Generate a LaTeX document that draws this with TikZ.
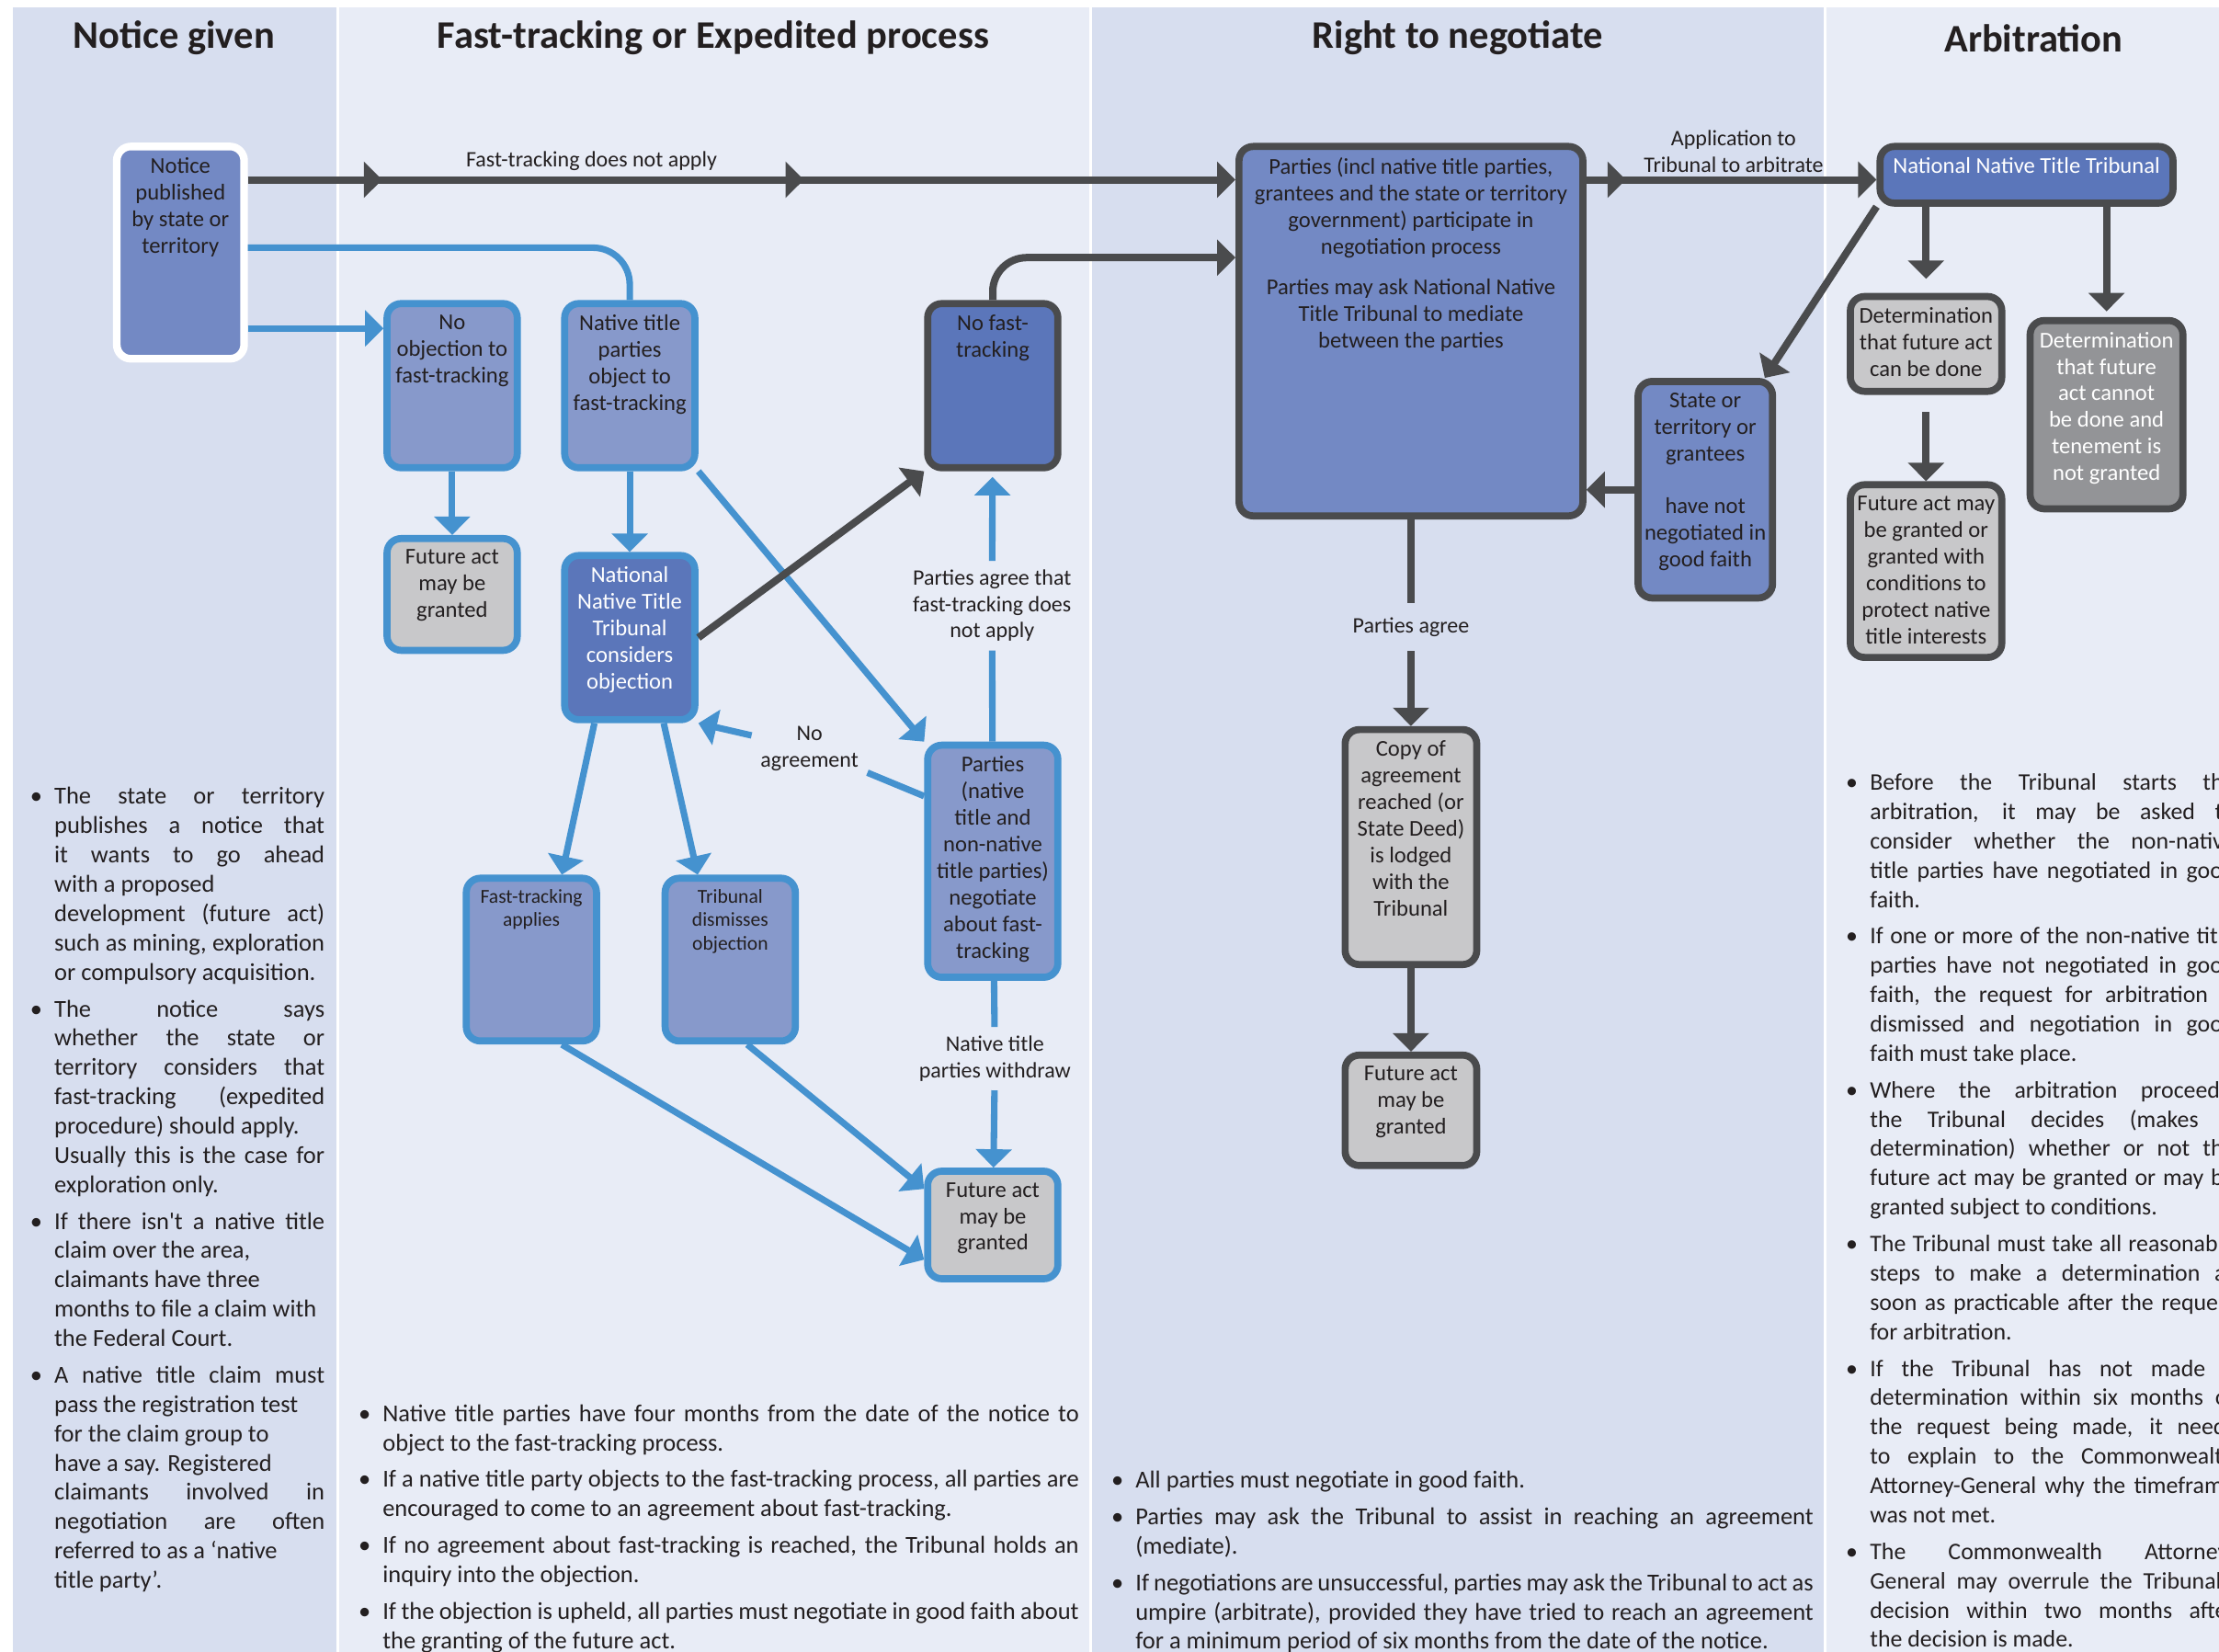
\documentclass[tikz,border=0pt]{standalone}
\usepackage{fontspec}
\setmainfont{Carlito}
\usetikzlibrary{arrows.meta,decorations.markings}
\definecolor{bgA}{HTML}{D7DEEF}
\definecolor{bgB}{HTML}{E8ECF6}
\definecolor{fillMid}{HTML}{7389C4}
\definecolor{fillLight}{HTML}{8799CB}
\definecolor{fillDark}{HTML}{5B76BA}
\definecolor{grayLight}{HTML}{C8C8CA}
\definecolor{grayDark}{HTML}{939497}
\definecolor{lineBlue}{HTML}{4592CF}
\definecolor{lineDark}{HTML}{4A4B4D}
\definecolor{txt}{HTML}{231F20}
\newcommand{\boxtext}[3]{\parbox[c][#2][t]{#1}{\centering #3}}
\newlength{\bhang}\setlength{\bhang}{10pt}
\newcommand{\bitem}[1]{\par\noindent\hangindent=\bhang\hangafter=1\makebox[\bhang][l]{\hspace{1.5pt}\textbullet}#1\par}

\begin{document}
\begin{tikzpicture}[x=0.5pt,y=-0.5pt,>={Triangle[length=6.5pt,width=12.5pt]},
  box/.style={rectangle,rounded corners=5pt,line width=2.5pt,inner xsep=1pt,inner ysep=4pt,text=txt,font=\fontsize{8}{9.4}\selectfont},
  blbox/.style={box,draw=lineBlue},
  dkbox/.style={box,draw=lineDark},
  bl/.style={draw=lineBlue,line width=2.3pt},
  dk/.style={draw=lineDark,line width=2.6pt},
  lbl/.style={font=\fontsize{7.8}{9.3}\selectfont,text=txt,align=center,inner sep=3pt},
  head/.style={font=\fontsize{13.8}{16}\selectfont\bfseries,text=txt},
  notes/.style={anchor=north west,inner sep=0pt,align=justify,text=txt,font=\fontsize{8.6}{10.35}\selectfont,
    execute at begin node={\setlength{\parskip}{2.6pt}\tolerance=10000\hbadness=10000\hyphenpenalty=10000\exhyphenpenalty=10000}}]
  % page and column backgrounds
  \fill[white] (0,0) rectangle (1568,1167);
  \useasboundingbox (0,0) rectangle (1568,1167);
  \fill[bgA] (9,5) rectangle (238,1167);
  \fill[bgB] (239.5,5) rectangle (770,1167);
  \fill[bgA] (771.5,5) rectangle (1289,1167);
  \fill[bgB] (1290.5,5) rectangle (1568,1167);
  % column headings
  \node[head] (h1) at (123,27) {Notice given};
  \node[head] (h2) at (504,27) {Fast-tracking or Expedited process};
  \node[head] (h3) at (1030,27) {Right to negotiate};
  \node[head] (h4) at (1437,27) {Arbitration};

  % boxes: notice and fast-tracking
  \node[box,draw=white,fill=fillMid,line width=2.7pt] (notice) at (127.5,178.5) {\boxtext{43pt}{67pt}{Notice\\published\\by state or\\territory}};
  \node[blbox,fill=fillLight] (noobj) at (319.5,272.5) {\boxtext{44pt}{50pt}{No\\objection to\\fast-tracking}};
  \node[blbox,fill=fillLight] (ntobj) at (445,272.5) {\boxtext{44pt}{50pt}{Native title\\parties\\object to\\fast-tracking}};
  \node[dkbox,fill=fillDark] (nofast) at (701.5,272.5) {\boxtext{44pt}{50pt}{No fast-\\tracking}};
  \node[blbox,fill=grayLight] (fa1) at (319.5,420) {\boxtext{44pt}{31.5pt}{Future act\\may be\\granted}};
  \node[blbox,fill=fillDark,text=white] (nntt1) at (445,450.5) {\boxtext{44pt}{50pt}{National\\Native Title\\Tribunal\\considers\\objection}};
  \node[blbox,fill=fillLight,font=\fontsize{7}{8.2}\selectfont] (ftapp) at (375.5,678) {\boxtext{44pt}{49.5pt}{Fast-tracking\\applies}};
  \node[blbox,fill=fillLight,font=\fontsize{7}{8.2}\selectfont] (dismiss) at (516,678) {\boxtext{44pt}{49.5pt}{Tribunal\\dismisses\\objection}};
  \node[blbox,fill=fillLight] (partiesneg) at (701.5,608.5) {\boxtext{44pt}{74pt}{Parties\\(native\\title and\\non-native\\title parties)\\negotiate\\about fast-\\tracking}};
  \node[blbox,fill=grayLight] (fa2) at (701.5,865.5) {\boxtext{44pt}{30pt}{Future act\\may be\\granted}};

  % boxes: right to negotiate and arbitration
  \node[dkbox,fill=fillMid] (parties) at (997,234) {\boxtext{119.5pt}{122.5pt}{Parties (incl native title parties,\\grantees and the state or territory\\government) participate in\\negotiation process\\[5pt]Parties may ask National Native\\Title Tribunal to mediate\\between the parties}};
  \node[dkbox,fill=grayLight] (copy) at (997,598.5) {\boxtext{44.5pt}{75pt}{Copy of\\agreement\\reached (or\\State Deed)\\is lodged\\with the\\Tribunal}};
  \node[dkbox,fill=grayLight] (fa3) at (997,784.5) {\boxtext{44.5pt}{31pt}{Future act\\may be\\granted}};
  \node[dkbox,fill=fillMid] (state) at (1205,346) {\boxtext{45.5pt}{68.5pt}{State or\\territory or\\grantees\\[9.2pt]have not\\negotiated in\\good faith}};
  \node[dkbox,fill=fillDark,text=white] (nntt2) at (1432,123.5) {\boxtext{101.5pt}{12pt}{National Native Title Tribunal}};
  \node[dkbox,fill=grayLight] (detcan) at (1361,243) {\boxtext{51.5pt}{25.5pt}{Determination\\that future act\\can be done}};
  \node[dkbox,fill=grayDark,text=white] (detcannot) at (1488.5,293) {\boxtext{52pt}{58.5pt}{Determination\\that future\\act cannot\\be done and\\tenement is\\not granted}};
  \node[dkbox,fill=grayLight] (fagrant) at (1361,403.5) {\boxtext{51.5pt}{53pt}{Future act may\\be granted or\\granted with\\conditions to\\protect native\\title interests}};

  % connector labels
  \node[lbl] (lblft) at (418,114) {Fast-tracking does not apply};
  \node[lbl] (lblagree) at (701,428) {Parties agree that\\fast-tracking does\\not apply};
  \node[lbl] (lblnoagr) at (572,529) {No\\agreement};
  \node[lbl] (lblwd) at (703,748) {Native title\\parties withdraw};
  \node[lbl] (lblapp) at (1225,107) {Application to\\Tribunal to arbitrate};
  \node[lbl,inner ysep=5pt] (lblpa) at (997,443) {Parties agree};

  % connectors: notice and fast-tracking
  \coordinate (n1) at ([yshift=25.75pt]notice.east);
  \draw[dk,->,postaction={decorate},decoration={markings,mark=at position 0.136 with {\arrow{>}},mark=at position 0.563 with {\arrow{>}}}] (n1) -- (n1 -| parties.west);
  \coordinate (n2) at ([yshift=1.75pt]notice.east);
  \draw[bl,rounded corners=13pt] (n2) -| (ntobj.north);
  \coordinate (n3) at ([yshift=-26.75pt]notice.east);
  \draw[bl,->] (n3) -- (n3 -| noobj.west);
  \draw[bl,->] (noobj) -- (fa1);
  \draw[bl,->] (ntobj) -- (nntt1);
  \draw[bl,->] (ntobj.south east) -- (partiesneg.north west);
  \draw[dk,->] (nntt1.east) -- (nofast.south west);
  \coordinate (p2) at ([yshift=26pt]parties.west);
  \draw[dk,->,rounded corners=12pt] (nofast.north) |- (p2);
  \draw[bl] (partiesneg) -- (lblagree);
  \draw[bl,->,shorten >=2pt] (lblagree) -- (nofast);
  \coordinate (ng) at ([yshift=23pt]partiesneg.west);
  \draw[bl] (ng) -- (lblnoagr);
  \draw[bl,->] (lblnoagr) -- (nntt1.south east);
  \draw[bl,->] ([xshift=-12.5pt]nntt1.south) -- ([xshift=10.75pt]ftapp.north);
  \draw[bl,->] ([xshift=12pt]nntt1.south) -- ([xshift=-11.5pt]dismiss.north);
  \draw[bl] (partiesneg) -- (lblwd);
  \draw[bl,->] (lblwd) -- (fa2);
  \draw[bl,->] ([xshift=10.75pt]ftapp.south) -- ([yshift=-12.25pt]fa2.west);
  \draw[bl,->] ([xshift=6pt]dismiss.south) -- ([yshift=12.75pt]fa2.west);

  % connectors: negotiation and arbitration
  \coordinate (p3) at ([yshift=53.5pt]parties.east);
  \draw[dk,->,postaction={decorate},decoration={markings,mark=at position 0.136 with {\arrow{>}}}] (p3) -- (p3 -| nntt2.west);
  \draw[dk,->] (nntt2.south west) -- ([xshift=-4pt]state.north east);
  \draw[dk,->,shorten >=5pt] (nntt2.south -| detcan.north) -- (detcan.north);
  \draw[dk,->,shorten >=2pt] (nntt2.south -| detcannot.north) -- (detcannot.north);
  \draw[dk,->,shorten <=6pt] (detcan) -- (fagrant);
  \draw[dk,->] (state.west) -- (state.west -| parties.east);
  \draw[dk] (parties) -- (lblpa);
  \draw[dk,->] (lblpa) -- (copy);
  \draw[dk,->] (copy) -- (fa3);

  % notes under each column
  \node[notes,text width=105.5pt] (notes1) at (18,542) {%
    \bitem{The state or territory\linebreak publishes a notice that\linebreak it wants to go ahead\linebreak with a proposed\newline development (future act)\linebreak such as mining, exploration\linebreak or compulsory acquisition.}%
    \bitem{The notice says\linebreak whether the state or\linebreak territory considers that\linebreak fast-tracking (expedited\linebreak procedure) should apply.\newline Usually this is the case for\linebreak exploration only.}%
    \bitem{If there isn\textquotesingle t a native title\linebreak claim over the area,\newline claimants have three\newline months to file a claim with\newline the Federal Court.}%
    \bitem{A native title claim must\linebreak pass the registration test\newline for the claim group to\newline have a say. Registered\newline claimants involved in\linebreak negotiation are often\linebreak referred to as a ‘native\newline title party’.}};
  \node[notes,text width=256pt] (notes2) at (250,978) {%
    \bitem{Native title parties have four months from the date of the notice to\linebreak object to the fast-tracking process.}%
    \bitem{If a native title party objects to the fast-tracking process, all parties are\linebreak encouraged to come to an agreement about fast-tracking.}%
    \bitem{If no agreement about fast-tracking is reached, the Tribunal holds an\linebreak inquiry into the objection.}%
    \bitem{If the objection is upheld, all parties must negotiate in good faith about\linebreak the granting of the future act.}};
  \node[notes,text width=249.5pt] (notes3) at (782,1025) {%
    \bitem{All parties must negotiate in good faith.}%
    \bitem{Parties may ask the Tribunal to assist in reaching an agreement\linebreak (mediate).}%
    \bitem{If negotiations are unsuccessful, parties may ask the Tribunal to act as\linebreak umpire (arbitrate), provided they have tried to reach an agreement\linebreak for a minimum period of six months from the date of the notice.}};
  \node[notes,text width=139pt,font=\fontsize{8.4}{10.35}\selectfont] (notes4) at (1301,532) {%
    \bitem{Before the Tribunal starts the\linebreak arbitration, it may be asked to\linebreak consider whether the non-native\linebreak title parties have negotiated in good\linebreak faith.}%
    \bitem{If one or more of the non-native title\linebreak parties have not negotiated in good\linebreak faith, the request for arbitration is\linebreak dismissed and negotiation in good\linebreak faith must take place.}%
    \bitem{Where the arbitration proceeds,\linebreak the Tribunal decides (makes a\linebreak determination) whether or not the\linebreak future act may be granted or may be\linebreak granted subject to conditions.}%
    \bitem{The Tribunal must take all reasonable\linebreak steps to make a determination as\linebreak soon as practicable after the request\linebreak for arbitration.}%
    \bitem{If the Tribunal has not made a\linebreak determination within six months of\linebreak the request being made, it needs\linebreak to explain to the Commonwealth\linebreak Attorney-General why the timeframe\linebreak was not met.}%
    \bitem{The Commonwealth Attorney-\linebreak General may overrule the Tribunal’s\linebreak decision within two months after\linebreak the decision is made.}};
\end{tikzpicture}
\end{document}
